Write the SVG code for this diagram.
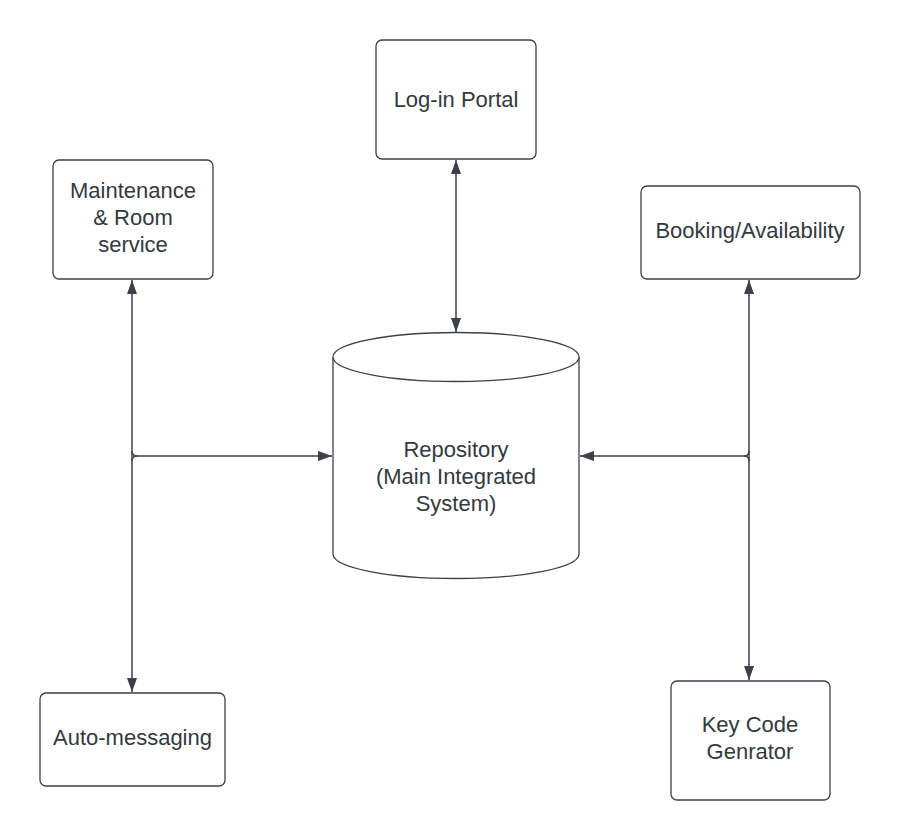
<svg xmlns="http://www.w3.org/2000/svg" width="900" height="840" viewBox="0 0 900 840">
<style>
.box{fill:#ffffff;stroke:#3b4048;stroke-width:1.3}
.txt{font-family:"Liberation Sans",Arial,sans-serif;font-size:22px;fill:#333940;text-anchor:middle}
.conn{fill:none;stroke:#3b4048;stroke-width:1.5}
</style>
<defs>
<marker id="arr" viewBox="0 0 14 10" refX="14" refY="5" markerWidth="14" markerHeight="10" markerUnits="userSpaceOnUse" orient="auto-start-reverse">
<path d="M0,0 L14,5 L0,10 z" fill="#3b4048"/>
</marker>
</defs>
<rect width="900" height="840" fill="#ffffff"/>
<g id="connectors">
<path class="conn" d="M456,160 V332" marker-start="url(#arr)" marker-end="url(#arr)"/>
<path class="conn" d="M132,280 V692" marker-start="url(#arr)" marker-end="url(#arr)"/>
<path class="conn" d="M132,451 Q132,456 137,456 H332" marker-end="url(#arr)"/>
<path class="conn" d="M132,461 Q132,456 137,456"/>
<path class="conn" d="M749,280 V680" marker-start="url(#arr)" marker-end="url(#arr)"/>
<path class="conn" d="M749,451 Q749,456 744,456 H580" marker-end="url(#arr)"/>
<path class="conn" d="M749,461 Q749,456 744,456"/>
</g>
<g id="login">
<rect class="box" x="376" y="40" width="160" height="119" rx="6"/>
<text class="txt" x="456" y="107">Log-in Portal</text>
</g>
<g id="maintenance">
<rect class="box" x="53" y="160" width="160" height="119" rx="6"/>
<text class="txt" x="133" y="198">Maintenance</text>
<text class="txt" x="133" y="225">&amp; Room</text>
<text class="txt" x="133" y="252">service</text>
</g>
<g id="booking">
<rect class="box" x="641" y="186" width="219" height="93" rx="6"/>
<text class="txt" x="750" y="238">Booking/Availability</text>
</g>
<g id="repository">
<path class="box" d="M333,357 A123,24.5 0 0 1 579,357 V554 A123,24.5 0 0 1 333,554 Z"/>
<path class="box" fill="none" d="M333,357 A123,24.5 0 0 0 579,357"/>
<text class="txt" x="456" y="457">Repository</text>
<text class="txt" x="456" y="484">(Main Integrated</text>
<text class="txt" x="456" y="511">System)</text>
</g>
<g id="automessaging">
<rect class="box" x="40" y="693" width="185" height="93" rx="6"/>
<text class="txt" x="132.5" y="745">Auto-messaging</text>
</g>
<g id="keycode">
<rect class="box" x="671" y="681" width="159" height="119" rx="6"/>
<text class="txt" x="750" y="732">Key Code</text>
<text class="txt" x="750" y="759">Genrator</text>
</g>
</svg>
